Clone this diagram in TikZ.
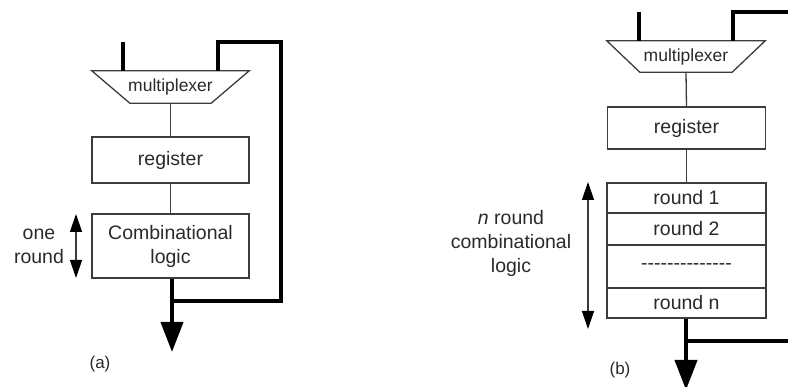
\documentclass[tikz,border=0pt]{standalone}
\usepackage{fontspec}
\setmainfont{Liberation Sans}
\newfontfamily\plainsans{Liberation Sans}
\usetikzlibrary{arrows.meta}
\definecolor{ink}{HTML}{2A2A2A}
\definecolor{edge}{HTML}{3C3C3C}
\begin{document}
\begin{tikzpicture}[x=1pt,y=-1pt,
  label text/.style={text=ink,font=\fontsize{19.5}{24}\selectfont,align=center,inner sep=0pt},
  blockbox/.style={draw=edge,line width=1.4pt,fill=white,label text,minimum width=157pt,inner sep=0pt},
  muxbox/.style={label text,font=\fontsize{17.5}{21}\selectfont,minimum width=157pt,inner sep=0pt},
  thin link/.style={draw=edge,line width=1.3pt},
  bus/.style={draw=black,line width=4pt},
  outarrow/.style={bus,-{Triangle[length=30pt,width=22pt]}},
  span/.style={draw=edge,line width=1.3pt,
    {Triangle[length=18pt,width=12pt,color=black]}-{Triangle[length=18pt,width=12pt,color=black]}},
  caption/.style={text=ink,font=\fontsize{17}{20}\selectfont,inner sep=0pt}]
\useasboundingbox (0,0) rectangle (788,387);

% ---------------- (a) single round per cycle ----------------
\node[muxbox,minimum height=32pt] (muxA) at (170.5,87) {multiplexer};
\draw[thin link] (muxA.north west) -- (muxA.north east)
  -- ([xshift=-38pt]muxA.south east) -- ([xshift=38pt]muxA.south west) -- cycle;
\node[blockbox,minimum height=46pt] (regA) at (170.5,160) {register};
\node[blockbox,minimum height=64pt] (combA) at (170.5,246) {Combinational\\logic};

\coordinate (inA) at (123,42);
\coordinate (inAend) at (123,71);
\coordinate (fbA1) at (218,71);
\coordinate (fbA2) at (218,42);
\coordinate (fbA3) at (281,42);
\coordinate (fbA4) at (281,301);
\coordinate (tapA) at (172,301);
\coordinate (outA) at (172,352);

\draw[thin link] (muxA.south) -- (regA.north);
\draw[thin link] (regA.south) -- (combA.north);
\draw[bus] (inA) -- (inAend);
\draw[bus,line join=miter] (fbA1) -- (fbA2) -- (fbA3) -- (fbA4) -- (tapA);
\draw[outarrow] (combA.south -| outA) -- (outA);

\coordinate (spanAtop) at (76,214);
\coordinate (spanAbot) at (76,278);
\draw[span] (spanAtop) -- (spanAbot);
\node[label text] (oneround) at (39,246) {one\\round};
\node[caption] (capA) at (100,364) {(a)};

% ---------------- (b) n rounds per cycle ----------------
\node[muxbox,minimum width=158pt,minimum height=31pt] (muxB) at (686,56.5) {multiplexer};
\draw[thin link] (muxB.north west) -- (muxB.north east)
  -- ([xshift=-33pt]muxB.south east) -- ([xshift=33pt]muxB.south west) -- cycle;
\node[blockbox,minimum width=158pt,minimum height=42pt] (regB) at (686.5,128) {register};
\node[blockbox,minimum width=159pt,minimum height=30pt] (r1) at (686.5,198) {round 1};
\node[blockbox,minimum width=159pt,minimum height=32pt] (r2) at (686.5,229) {round 2};
\node[blockbox,minimum width=159pt,minimum height=43pt] (rdots) at (686.5,266.5) {\plainsans --------------};
\node[blockbox,minimum width=159pt,minimum height=30pt] (rn) at (686.5,303) {round n};

\coordinate (inB) at (639,12);
\coordinate (inBend) at (639,41);
\coordinate (fbB1) at (733,41);
\coordinate (fbB2) at (733,12);
\coordinate (fbB3) at (792,12);
\coordinate (tapB) at (686,341);
\coordinate (tapBend) at (792,341);
\coordinate (outB) at (686,390);

\draw[thin link] (muxB.south) -- (regB.north);
\draw[thin link] (regB.south) -- (r1.north);
\draw[bus] (inB) -- (inBend);
\draw[bus,line join=miter] (fbB1) -- (fbB2) -- (fbB3);
\draw[bus] (tapB) -- (tapBend);
\draw[outarrow] (rn.south -| outB) -- (outB);

\coordinate (spanBtop) at (588,182);
\coordinate (spanBbot) at (588,329);
\draw[span] (spanBtop) -- (spanBbot);
\node[label text] (nround) at (511,243) {\textit{n} round\\combinational\\logic};
\node[caption] (capB) at (620,370) {(b)};
\end{tikzpicture}
\end{document}
